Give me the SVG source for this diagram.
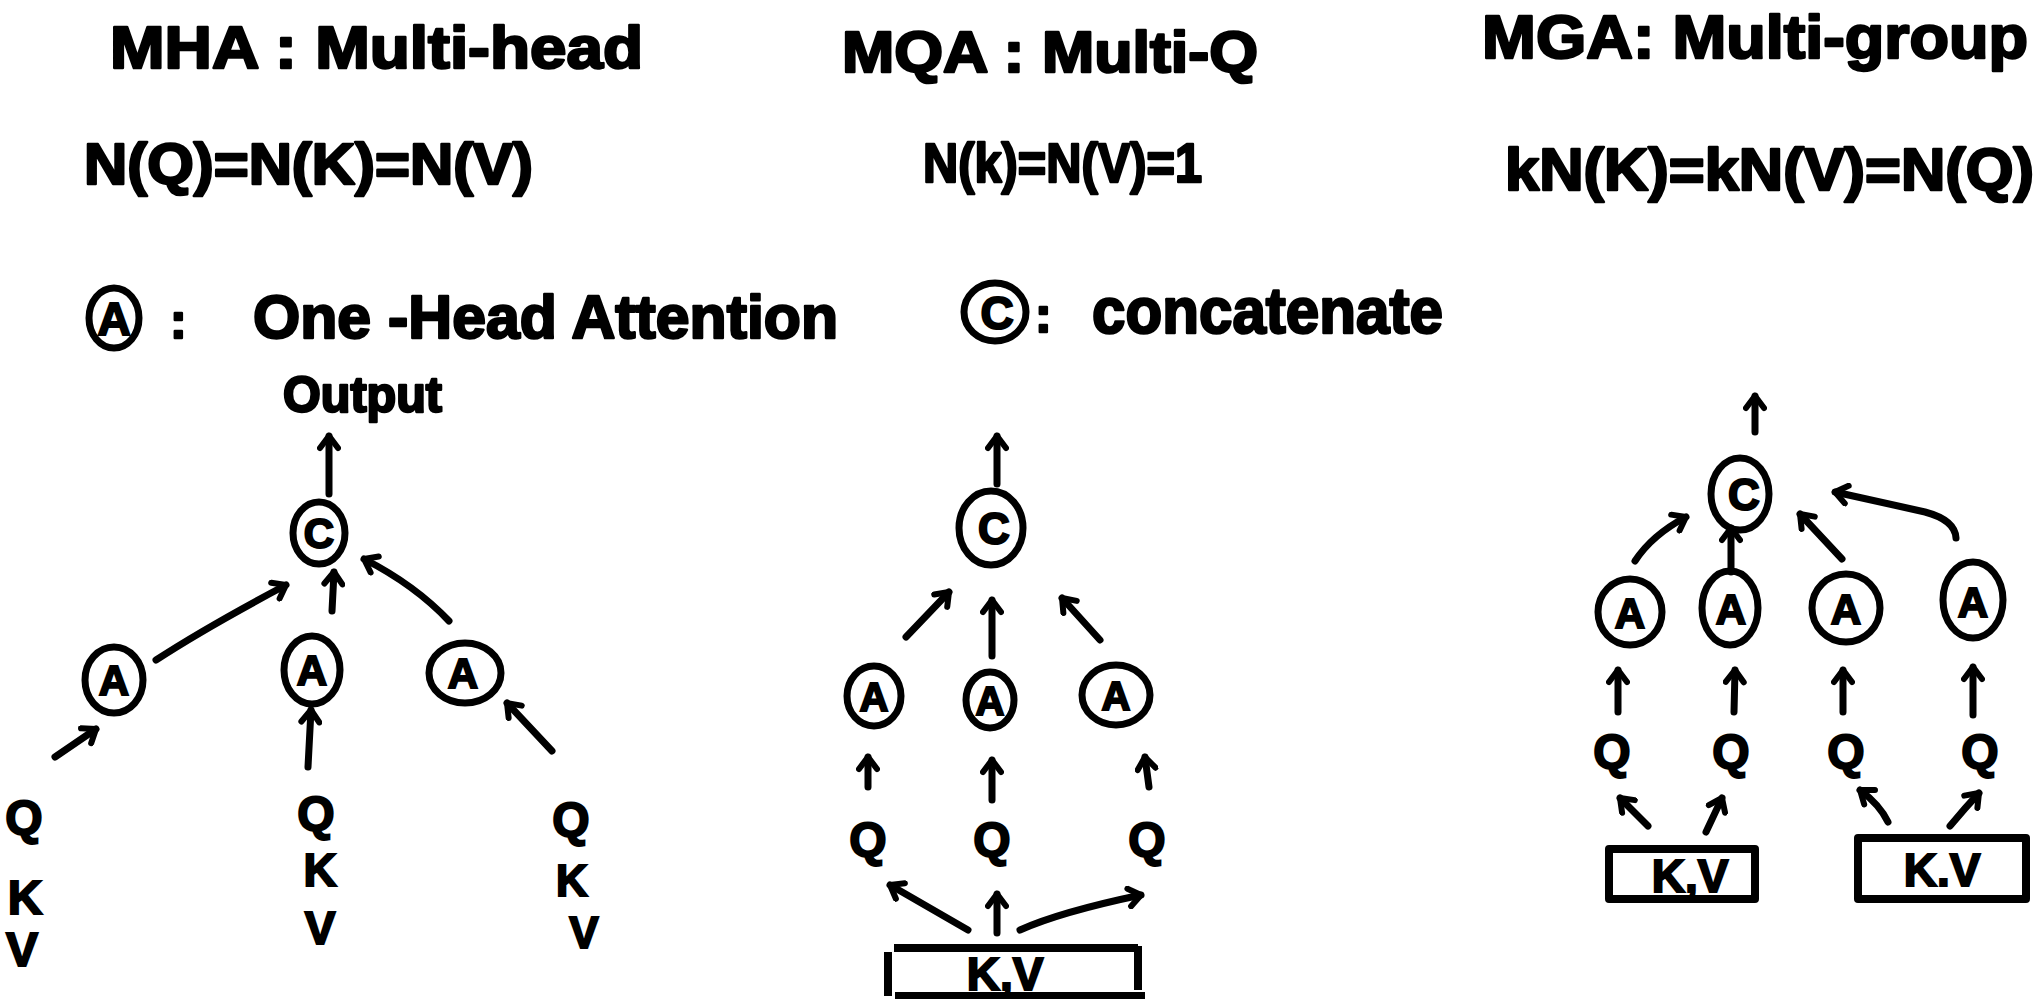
<svg xmlns="http://www.w3.org/2000/svg" width="2038" height="999" viewBox="0 0 2038 999">
<defs>
<style>
.t{font-family:"Liberation Sans","DejaVu Sans",sans-serif;font-weight:bold;fill:#000;stroke:#000;stroke-width:2.5;stroke-linejoin:round}
.n{font-family:"Liberation Sans","DejaVu Sans",sans-serif;font-weight:bold;fill:#000;stroke:#000;stroke-width:2;text-anchor:middle}
.c{fill:none;stroke:#000;stroke-width:7;stroke-linecap:round;stroke-linejoin:round}
.b{fill:none;stroke:#000;stroke-width:8;stroke-linejoin:round}
</style>
<marker id="ah" viewBox="-16 -12 20 24" markerWidth="20" markerHeight="24" refX="0" refY="0" orient="auto" markerUnits="userSpaceOnUse">
<path d="M -12 -9 L 0 0 L -12 9" fill="none" stroke="#000" stroke-width="6" stroke-linecap="round" stroke-linejoin="round"/>
</marker>
</defs>
<rect width="2038" height="999" fill="#fff"/>

<g id="titles">
<text class="t" x="110" y="68" font-size="60" textLength="533" lengthAdjust="spacingAndGlyphs">MHA : Multi-head</text>
<text class="t" x="84" y="184" font-size="58" textLength="449" lengthAdjust="spacingAndGlyphs">N(Q)=N(K)=N(V)</text>
<text class="t" x="842" y="72" font-size="58" textLength="416" lengthAdjust="spacingAndGlyphs">MQA : Multi-Q</text>
<text class="t" x="923" y="182" font-size="56" textLength="279" lengthAdjust="spacingAndGlyphs">N(k)=N(V)=1</text>
<text class="t" x="1482" y="58" font-size="62" textLength="546" lengthAdjust="spacingAndGlyphs">MGA: Multi-group</text>
<text class="t" x="1505" y="190" font-size="60" textLength="529" lengthAdjust="spacingAndGlyphs">kN(K)=kN(V)=N(Q)</text>
</g>

<g id="legend">
<ellipse class="c" cx="114" cy="318" rx="25" ry="30"/>
<text class="n" x="114" y="335" font-size="46">A</text>
<text class="t" x="170" y="338" font-size="50">:</text>
<text class="t" x="253" y="338" font-size="62" textLength="585" lengthAdjust="spacingAndGlyphs">One -Head  Attention</text>
<ellipse class="c" cx="995" cy="312" rx="31" ry="29"/>
<text class="n" x="997" y="329" font-size="46">C</text>
<text class="t" x="1035" y="332" font-size="50">:</text>
<text class="t" x="1092" y="333" font-size="64" textLength="351" lengthAdjust="spacingAndGlyphs">concatenate</text>
</g>

<g id="connectors">
<!-- MHA -->
<line class="c" x1="329" y1="494" x2="329" y2="436" marker-end="url(#ah)"/>
<path class="c" d="M156 660 Q205 628 286 585" marker-end="url(#ah)"/>
<line class="c" x1="332" y1="611" x2="334" y2="572" marker-end="url(#ah)"/>
<path class="c" d="M449 621 Q415 585 364 559" marker-end="url(#ah)"/>
<line class="c" x1="55" y1="757" x2="96" y2="729" marker-end="url(#ah)"/>
<line class="c" x1="308" y1="767" x2="311" y2="710" marker-end="url(#ah)"/>
<line class="c" x1="552" y1="751" x2="507" y2="703" marker-end="url(#ah)"/>
<!-- MQA -->
<line class="c" x1="997" y1="484" x2="997" y2="436" marker-end="url(#ah)"/>
<line class="c" x1="906" y1="637" x2="949" y2="592" marker-end="url(#ah)"/>
<line class="c" x1="992" y1="656" x2="992" y2="600" marker-end="url(#ah)"/>
<line class="c" x1="1100" y1="640" x2="1062" y2="598" marker-end="url(#ah)"/>
<line class="c" x1="868" y1="787" x2="868" y2="757" marker-end="url(#ah)"/>
<line class="c" x1="992" y1="800" x2="992" y2="760" marker-end="url(#ah)"/>
<line class="c" x1="1149" y1="787" x2="1145" y2="757" marker-end="url(#ah)"/>
<line class="c" x1="968" y1="930" x2="890" y2="885" marker-end="url(#ah)"/>
<line class="c" x1="997" y1="933" x2="997" y2="894" marker-end="url(#ah)"/>
<path class="c" d="M1020 930 Q1060 912 1141 895" marker-end="url(#ah)"/>
<!-- MGA -->
<line class="c" x1="1755" y1="432" x2="1755" y2="396" marker-end="url(#ah)"/>
<path class="c" d="M1635 561 Q1652 535 1686 517" marker-end="url(#ah)"/>
<line class="c" x1="1731" y1="572" x2="1731" y2="528" marker-end="url(#ah)"/>
<line class="c" x1="1842" y1="559" x2="1800" y2="514" marker-end="url(#ah)"/>
<path class="c" d="M1956 538 Q1955 520 1925 512 L1835 492" marker-end="url(#ah)"/>
<line class="c" x1="1618" y1="712" x2="1618" y2="670" marker-end="url(#ah)"/>
<line class="c" x1="1734" y1="712" x2="1735" y2="670" marker-end="url(#ah)"/>
<line class="c" x1="1843" y1="712" x2="1843" y2="670" marker-end="url(#ah)"/>
<line class="c" x1="1973" y1="715" x2="1973" y2="667" marker-end="url(#ah)"/>
<line class="c" x1="1648" y1="826" x2="1620" y2="798" marker-end="url(#ah)"/>
<line class="c" x1="1706" y1="832" x2="1722" y2="798" marker-end="url(#ah)"/>
<path class="c" d="M1888 822 Q1880 805 1860 790" marker-end="url(#ah)"/>
<path class="c" d="M1950 826 Q1965 808 1979 793" marker-end="url(#ah)"/>
</g>

<!-- MHA nodes -->
<g id="mha-output"><text class="t" x="283" y="412" font-size="50" textLength="159" lengthAdjust="spacingAndGlyphs">Output</text></g>
<g id="mha-concat"><ellipse class="c" cx="319" cy="533" rx="26" ry="31"/><text class="n" x="319" y="548" font-size="42">C</text></g>
<g id="mha-a1"><ellipse class="c" cx="114" cy="680" rx="29" ry="33"/><text class="n" x="114" y="695" font-size="42">A</text></g>
<g id="mha-a2"><ellipse class="c" cx="312" cy="670" rx="28" ry="34"/><text class="n" x="312" y="685" font-size="42">A</text></g>
<g id="mha-a3"><ellipse class="c" cx="465" cy="673" rx="36" ry="30"/><text class="n" x="463" y="688" font-size="42">A</text></g>
<g id="mha-qkv1">
<text class="n" x="24" y="834" font-size="48">Q</text>
<text class="n" x="25" y="914" font-size="48">K</text>
<text class="n" x="22" y="966" font-size="48">V</text>
</g>
<g id="mha-qkv2">
<text class="n" x="316" y="830" font-size="48">Q</text>
<text class="n" x="320" y="886" font-size="46">K</text>
<text class="n" x="320" y="944" font-size="46">V</text>
</g>
<g id="mha-qkv3">
<text class="n" x="571" y="836" font-size="48">Q</text>
<text class="n" x="572" y="896" font-size="44">K</text>
<text class="n" x="584" y="948" font-size="44">V</text>
</g>

<!-- MQA nodes -->
<g id="mqa-concat"><ellipse class="c" cx="991" cy="528" rx="32" ry="37"/><text class="n" x="994" y="544" font-size="44">C</text></g>
<g id="mqa-a1"><ellipse class="c" cx="874" cy="696" rx="27" ry="30"/><text class="n" x="874" y="711" font-size="40">A</text></g>
<g id="mqa-a2"><ellipse class="c" cx="990" cy="700" rx="24" ry="28"/><text class="n" x="990" y="715" font-size="40">A</text></g>
<g id="mqa-a3"><ellipse class="c" cx="1116" cy="695" rx="34" ry="30"/><text class="n" x="1116" y="710" font-size="40">A</text></g>
<g id="mqa-q1"><text class="n" x="868" y="856" font-size="48">Q</text></g>
<g id="mqa-q2"><text class="n" x="992" y="856" font-size="48">Q</text></g>
<g id="mqa-q3"><text class="n" x="1147" y="856" font-size="48">Q</text></g>
<g id="mqa-kv"><path class="b" d="M894 948 H1138 M888 952 V996 M1138 946 V990 M895 996 H1145"/><text class="n" x="1005" y="990" font-size="46">K,V</text></g>

<!-- MGA nodes -->
<g id="mga-concat"><ellipse class="c" cx="1740" cy="494" rx="29" ry="36"/><text class="n" x="1744" y="510" font-size="44">C</text></g>
<g id="mga-a1"><ellipse class="c" cx="1630" cy="612" rx="32" ry="33"/><text class="n" x="1630" y="628" font-size="42">A</text></g>
<g id="mga-a2"><ellipse class="c" cx="1730" cy="608" rx="28" ry="37"/><text class="n" x="1731" y="624" font-size="42">A</text></g>
<g id="mga-a3"><ellipse class="c" cx="1846" cy="608" rx="34" ry="34"/><text class="n" x="1846" y="624" font-size="42">A</text></g>
<g id="mga-a4"><ellipse class="c" cx="1973" cy="600" rx="30" ry="38"/><text class="n" x="1973" y="617" font-size="42">A</text></g>
<g id="mga-q1"><text class="n" x="1612" y="768" font-size="48">Q</text></g>
<g id="mga-q2"><text class="n" x="1731" y="768" font-size="48">Q</text></g>
<g id="mga-q3"><text class="n" x="1846" y="768" font-size="48">Q</text></g>
<g id="mga-q4"><text class="n" x="1980" y="768" font-size="48">Q</text></g>
<g id="mga-kv1"><rect class="b" x="1609" y="849" width="146" height="50"/><text class="n" x="1690" y="892" font-size="46">K,V</text></g>
<g id="mga-kv2"><rect class="b" x="1858" y="838" width="168" height="61"/><text class="n" x="1942" y="886" font-size="46">K.V</text></g>
</svg>
